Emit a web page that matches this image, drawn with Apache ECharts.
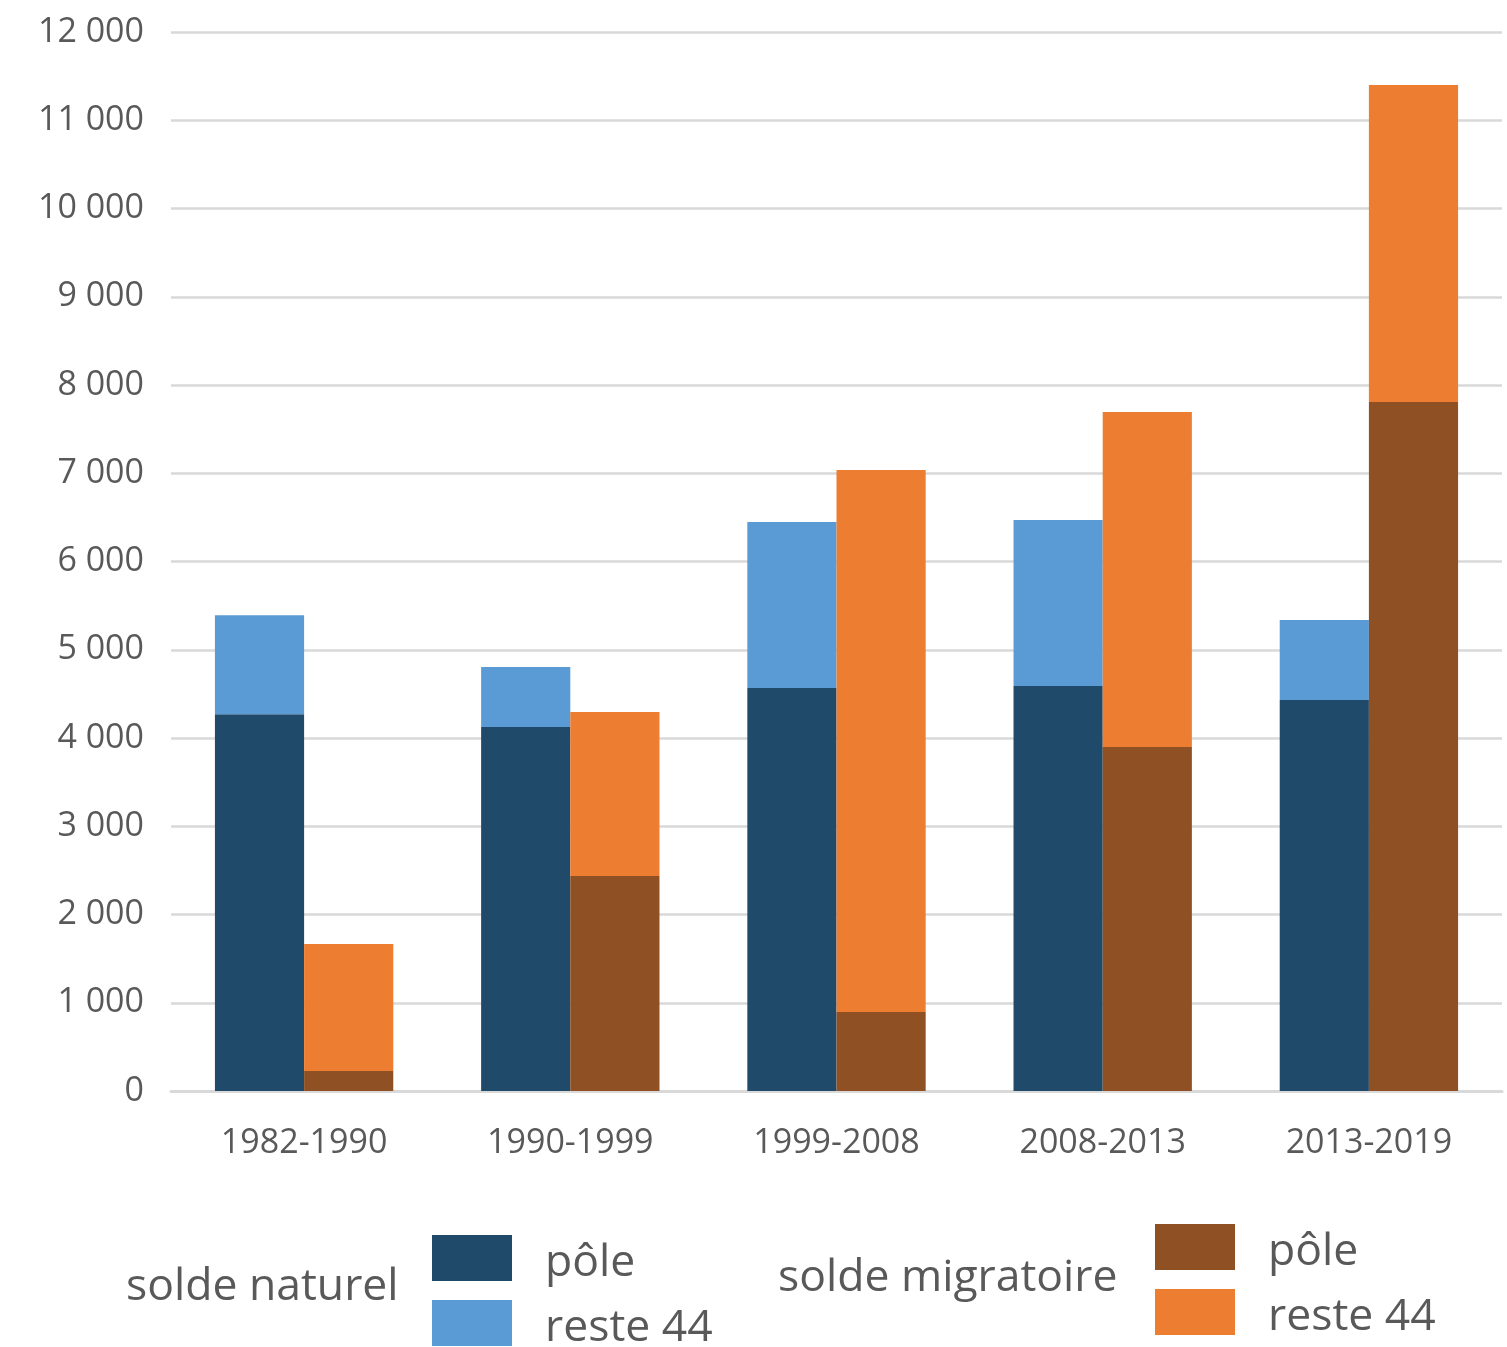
<!DOCTYPE html>
<html>
<head>
<meta charset="utf-8">
<script src="https://cdn.jsdelivr.net/npm/echarts@6/dist/echarts.min.js"></script>
<style>
html,body{margin:0;padding:0;background:#fff;}
#chart{width:1507px;height:1347px;}
</style>
</head>
<body>
<div id="chart"></div>
<script>
const categories = ['1982-1990', '1990-1999', '1999-2008', '2008-2013', '2013-2019'];
const naturelPole = [4270, 4125, 4567, 4589, 4431];
const naturelReste = [1120, 680, 1881, 1881, 906];
const migratoirePole = [227, 2436, 895, 3898, 7807];
const migratoireReste = [1440, 1859, 6142, 3796, 3592];
const yTicks = { min: 0, max: 12000, interval: 1000 };

const FONT = '"Open Sans", "Liberation Sans", sans-serif';
const GREY = '#595959';

function fmt(v) {
  return String(v).replace(/\B(?=(\d{3})+(?!\d))/g, ' ');
}

const chart = echarts.init(document.getElementById('chart'));
const legendNames = {
  'naturel pôle': 'pôle', 'naturel reste 44': 'reste 44',
  'migratoire pôle': 'pôle', 'migratoire reste 44': 'reste 44'
};
const legendCommon = {
  orient: 'vertical',
  icon: 'rect',
  itemWidth: 80,
  itemHeight: 46,
  itemGap: 19,
  padding: 0,
  selectedMode: false,
  formatter: () => '',
  textStyle: { fontSize: 44.5, color: GREY, fontFamily: FONT }
};
function label(text, x, y) {
  return { type: 'text', x: x, y: y, style: { text: text, fontSize: 44.5, fill: GREY, fontFamily: FONT, verticalAlign: 'middle', align: 'left' } };
}
chart.setOption({
  animation: false,
  backgroundColor: '#fff',
  grid: { left: 171, right: 5, top: 32, bottom: 256, containLabel: false },
  xAxis: {
    type: 'category',
    data: categories,
    axisLine: { lineStyle: { color: '#D9D9D9', width: 3 } },
    axisTick: { show: false },
    axisLabel: { fontSize: 34, color: GREY, fontFamily: FONT, margin: 35 }
  },
  yAxis: {
    type: 'value',
    min: yTicks.min, max: yTicks.max, interval: yTicks.interval,
    axisLine: { show: false },
    axisTick: { show: false },
    splitLine: { lineStyle: { color: '#D9D9D9', width: 2.5 } },
    axisLabel: { fontSize: 34, color: GREY, fontFamily: FONT, margin: 27, formatter: v => fmt(v) }
  },
  legend: [
    Object.assign({}, legendCommon, { left: 432, top: 1235, data: ['naturel pôle', 'naturel reste 44'] }),
    Object.assign({}, legendCommon, { left: 1155, top: 1224, data: ['migratoire pôle', 'migratoire reste 44'] })
  ],
  graphic: [
    { type: 'text', left: 126, top: 1265, style: { text: 'solde naturel', fontSize: 44.5, fill: GREY, fontFamily: FONT } },
    { type: 'text', left: 778, top: 1256, style: { text: 'solde migratoire', fontSize: 44.5, fill: GREY, fontFamily: FONT } },
    label(legendNames['naturel pôle'], 545, 1263),
    label(legendNames['naturel reste 44'], 545, 1328),
    label(legendNames['migratoire pôle'], 1268, 1252),
    label(legendNames['migratoire reste 44'], 1268, 1317)
  ],
  series: [
    { name: 'naturel pôle', type: 'bar', stack: 'nat', data: naturelPole, barWidth: '33.5%', barGap: '0%', itemStyle: { color: '#1F4A6A' } },
    { name: 'naturel reste 44', type: 'bar', stack: 'nat', data: naturelReste, barWidth: '33.5%', barGap: '0%', itemStyle: { color: '#5B9BD5' } },
    { name: 'migratoire pôle', type: 'bar', stack: 'mig', data: migratoirePole, barWidth: '33.5%', barGap: '0%', itemStyle: { color: '#8F5124' } },
    { name: 'migratoire reste 44', type: 'bar', stack: 'mig', data: migratoireReste, barWidth: '33.5%', barGap: '0%', itemStyle: { color: '#ED7D31' } }
  ]
});
</script>
</body>
</html>
